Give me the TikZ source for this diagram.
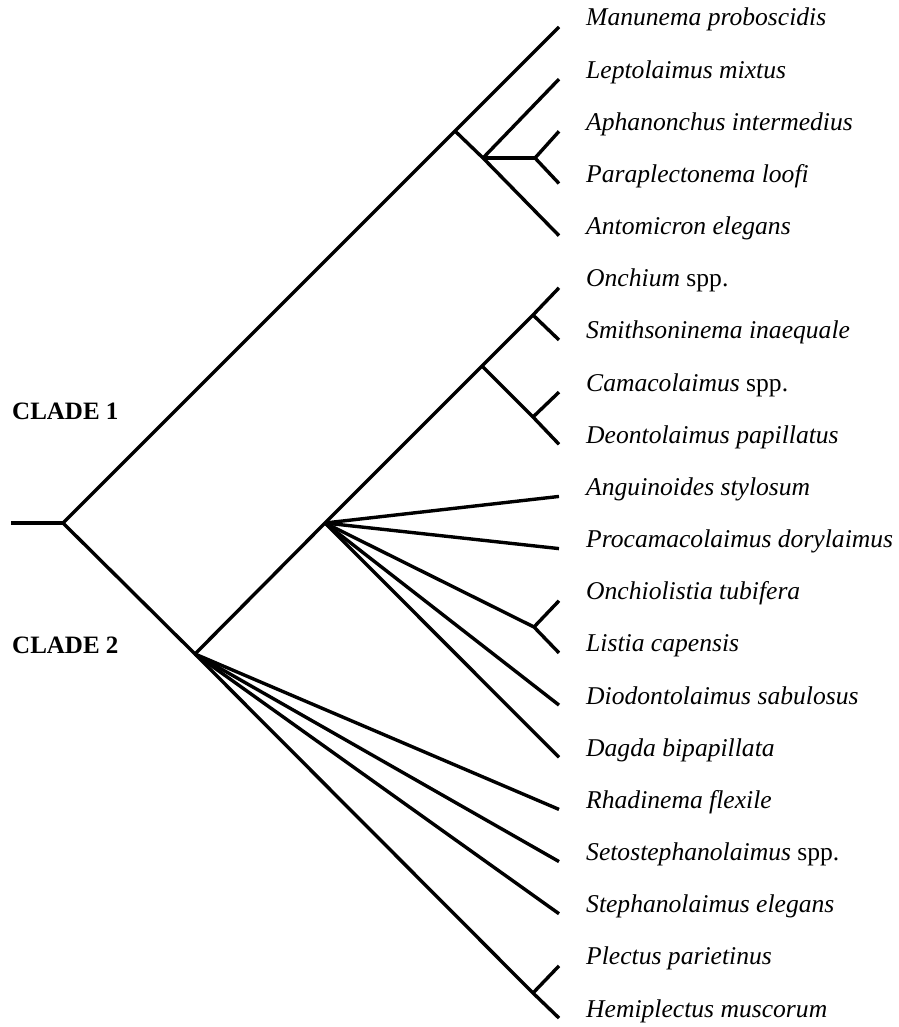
\documentclass[tikz,border=0pt]{standalone}
\usepackage{fontspec}
\setmainfont{Liberation Serif}
\begin{document}
\begin{tikzpicture}[x=1pt,y=-1pt,
  branch/.style={line width=3.4pt, line join=miter},
  taxon/.style={anchor=base west, inner sep=0pt, font=\fontsize{25.6}{30}\selectfont\itshape},
  clade/.style={anchor=base west, inner sep=0pt, font=\fontsize{25}{30}\selectfont\bfseries}]
\useasboundingbox (0,0) rectangle (898,1027);
% tips
\foreach \n/\k in {t0/0,t1/1,t2/2,t3/3,t4/4,t5/5,t6/6,t7/7,t8/8,t9/9,t10/10,t11/11,t12/12,t13/13,t14/14,t15/15,t16/16,t17/17,t18/18,t19/19}
  \coordinate (\n) at (559,{27+52.16*\k});
% internal nodes
\coordinate (s) at (11,523);
\coordinate (R) at (63,523);
\coordinate (A) at (455,131);
\coordinate (B) at (483,158);
\coordinate (C) at (535,158);
\coordinate (D) at (195,654);
\coordinate (E) at (325,523);
\coordinate (F) at (482,366);
\coordinate (G) at (533,315);
\coordinate (H) at (533,417);
\coordinate (I) at (534,627);
\coordinate (J) at (533,993);
% branches
\draw[branch] (s) -- (R);
\draw[branch] (R) -- (A) -- (t0);
\draw[branch] (A) -- (B) -- (t4);
\draw[branch] (B) -- (t1);
\draw[branch] (B) -- (C);
\draw[branch] (C) -- (t2);
\draw[branch] (C) -- (t3);
\draw[branch] (R) -- (D) -- (J) -- (t19);
\draw[branch] (J) -- (t18);
\draw[branch] (D) -- (E) -- (F) -- (G) -- (t5);
\draw[branch] (G) -- (t6);
\draw[branch] (F) -- (H) -- (t8);
\draw[branch] (H) -- (t7);
\draw[branch] (E) -- (t9);
\draw[branch] (E) -- (t10);
\draw[branch] (E) -- (I) -- (t12);
\draw[branch] (I) -- (t11);
\draw[branch] (E) -- (t13);
\draw[branch] (E) -- (t14);
\draw[branch] (D) -- (t15);
\draw[branch] (D) -- (t16);
\draw[branch] (D) -- (t17);
% labels
\node[taxon] (l0) at (586,{26+52.16*0}) {Manunema proboscidis};
\node[taxon] (l1) at (586,{26+52.16*1}) {Leptolaimus mixtus};
\node[taxon] (l2) at (586,{26+52.16*2}) {Aphanonchus intermedius};
\node[taxon] (l3) at (586,{26+52.16*3}) {Paraplectonema loofi};
\node[taxon] (l4) at (586,{26+52.16*4}) {Antomicron elegans};
\node[taxon] (l5) at (586,{26+52.16*5}) {Onchium \upshape spp.};
\node[taxon] (l6) at (586,{26+52.16*6}) {Smithsoninema inaequale};
\node[taxon] (l7) at (586,{26+52.16*7}) {Camacolaimus \upshape spp.};
\node[taxon] (l8) at (586,{26+52.16*8}) {Deontolaimus papillatus};
\node[taxon] (l9) at (586,{26+52.16*9}) {Anguinoides stylosum};
\node[taxon] (l10) at (586,{26+52.16*10}) {Procamacolaimus dorylaimus};
\node[taxon] (l11) at (586,{26+52.16*11}) {Onchiolistia tubifera};
\node[taxon] (l12) at (586,{26+52.16*12}) {Listia capensis};
\node[taxon] (l13) at (586,{26+52.16*13}) {Diodontolaimus sabulosus};
\node[taxon] (l14) at (586,{26+52.16*14}) {Dagda bipapillata};
\node[taxon] (l15) at (586,{26+52.16*15}) {Rhadinema flexile};
\node[taxon] (l16) at (586,{26+52.16*16}) {Setostephanolaimus \upshape spp.};
\node[taxon] (l17) at (586,{26+52.16*17}) {Stephanolaimus elegans};
\node[taxon] (l18) at (586,{26+52.16*18}) {Plectus parietinus};
\node[taxon] (l19) at (586,{26+52.16*19}) {Hemiplectus muscorum};
\node[clade] (c1) at (12,419) {CLADE 1};
\node[clade] (c2) at (12,653) {CLADE 2};
\end{tikzpicture}
\end{document}
